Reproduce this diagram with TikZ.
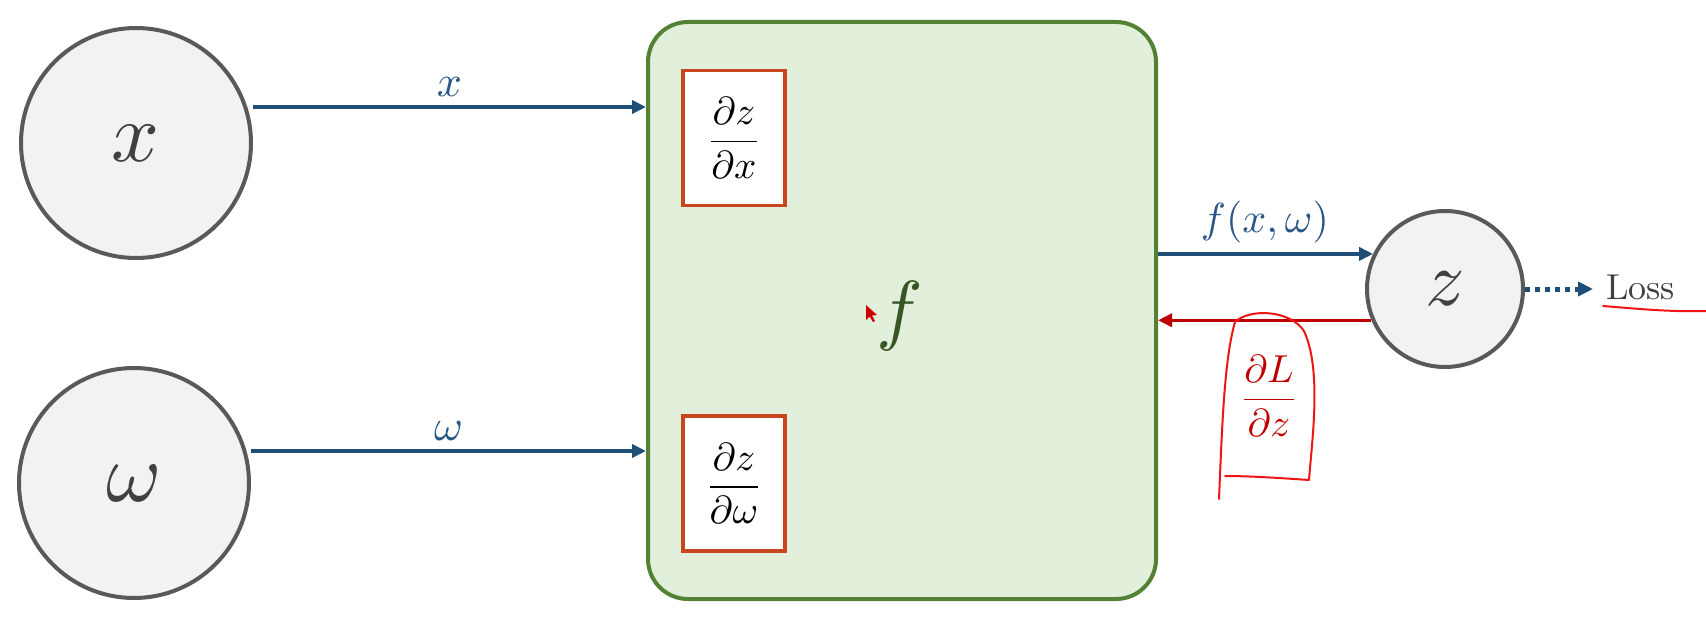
\documentclass[tikz,border=0pt]{standalone}
\usetikzlibrary{arrows.meta}
\definecolor{cfill}{HTML}{F2F2F2}
\definecolor{cline}{HTML}{595959}
\definecolor{ctext}{HTML}{404040}
\definecolor{gfill}{HTML}{E2EFDA}
\definecolor{gline}{HTML}{548235}
\definecolor{gtext}{HTML}{375623}
\definecolor{bline}{HTML}{1F4E79}
\definecolor{btext}{HTML}{2A5788}
\definecolor{rbox}{RGB}{198,70,30}
\definecolor{rdark}{HTML}{C00000}
\definecolor{rpen}{RGB}{240,20,20}
\tikzset{
  circnode/.style={circle,draw=cline,fill=cfill,line width=4pt,inner sep=0pt,text=ctext},
  fracbox/.style={draw=rbox,fill=white,line width=3.5pt,minimum width=102pt,minimum height=135pt,inner sep=0pt},
  fwd/.style={draw=bline,line width=3.5pt,-{Triangle[length=14pt,width=13pt]}},
  bwd/.style={draw=rdark,line width=3.5pt,-{Triangle[length=14pt,width=13pt]}},
  edgelab/.style={text=btext,inner sep=0pt},
  pen/.style={draw=rpen,line width=2pt,line cap=round,line join=round}
}
\begin{document}
\begin{tikzpicture}[x=1pt,y=-1pt]
\path[use as bounding box,fill=white] (0,0) rectangle (1706,634);
% circles
\node[circnode,minimum size=230pt] (xc) at (136,143) {\scalebox{8.4}{$x$}};
\node[circnode,minimum size=230pt] (wc) at (134,483) {\scalebox{8.4}{$\omega$}};
\node[circnode,minimum size=156pt] (zc) at (1445,289) {\scalebox{7.8}{$z$}};
% main box
\node[draw=gline,fill=gfill,line width=4pt,rounded corners=40pt,minimum width=508pt,minimum height=577pt,inner sep=0pt] (fb) at (902,310.5) {};
\node[text=gtext,inner sep=0pt] (fl) at (900,316) {\scalebox{7.8}{$f$}};
% cursor
\fill[rdark!80!red] (866,305) -- (866,320) -- (869.5,316.5) -- (873,322) -- (875,321) -- (872,315.5) -- (877,315) -- cycle;
% fraction boxes
\node[fracbox] (dx) at (734,138) {\scalebox{3.9}{$\displaystyle\frac{\partial z}{\partial x}$}};
\node[fracbox] (dw) at (734,483.5) {\scalebox{3.9}{$\displaystyle\frac{\partial z}{\partial \omega}$}};
% forward arrows
\draw[fwd] (xc.east |- 0,107) -- node[edgelab,above=9pt] (xl) {\scalebox{4.4}{$x$}} (fb.west |- 0,107);
\draw[fwd] (wc.east |- 0,451) -- node[edgelab,above=9pt] (wl) {\scalebox{4.4}{$\omega$}} (fb.west |- 0,451);
\coordinate (zin) at (zc.154.5);
\draw[fwd] (fb.east |- zin) -- (zin);
\node[edgelab] (fxl) at (1265,222) {\scalebox{4.2}{$f(x,\omega)$}};
% backward arrow
\coordinate (zout) at (zc.203);
\draw[bwd] (zout) -- (fb.east |- zout);
\node[text=rdark,inner sep=0pt] (dlz) at (1269,396) {\scalebox{3.9}{$\displaystyle\frac{\partial L}{\partial z}$}};
% loss
\coordinate (ltip) at (1593,289);
\draw[draw=bline,line width=5pt,dash pattern=on 5pt off 5pt,-{Triangle[length=15pt,width=14pt]}] (zc.east) -- (ltip);
\node[anchor=base west,inner sep=0pt,text=ctext] (loss) at (1606,299) {\scalebox{3.6}{Loss}};
% handwriting
\draw[pen] (1603,306) .. controls (1640,309) and (1670,312) .. (1706,311);
\draw[pen] (1219,499) .. controls (1222,430) and (1224,360) .. (1235,322)
  .. controls (1250,308) and (1290,310) .. (1304,331)
  .. controls (1322,370) and (1312,440) .. (1309,480)
  .. controls (1280,478) and (1250,476) .. (1225,476);
\end{tikzpicture}
\end{document}
